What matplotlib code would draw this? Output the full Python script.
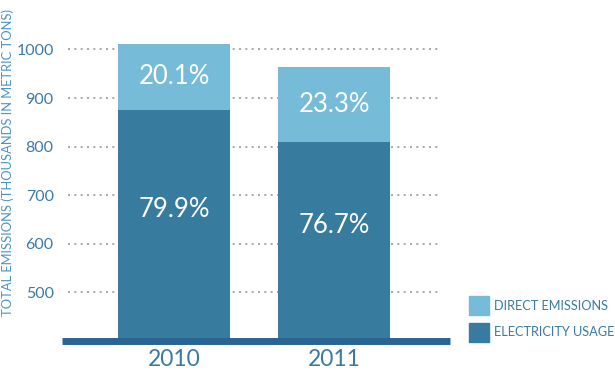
import matplotlib.pyplot as plt

years = ['2010', '2011']
electricity = [875, 810]
total = [1012, 963]
direct_pct = ['20.1%', '23.3%']
elec_pct = ['79.9%', '76.7%']
yticks = [500, 600, 700, 800, 900, 1000]

light = '#76bcd8'
dark = '#377c9f'
text_col = '#3a7aa3'

plt.rcParams['font.family'] = ['Lato', 'DejaVu Sans']

fig = plt.figure(figsize=(6.15, 3.8), dpi=100)
ax = fig.add_axes([62 / 615, 39 / 380, 388 / 615, 311 / 380])

x = [0, 1]
direct = [t - e for t, e in zip(total, electricity)]
elec_heights = [e - 400 for e in electricity]

for v in yticks:
    ax.axhline(v, xmin=0.016, xmax=0.974, color='#999999', lw=1.2,
               linestyle=(0, (1.2, 2.6)), zorder=1)

ax.bar(x, elec_heights, bottom=400, width=0.7, color=dark, zorder=2)
ax.bar(x, direct, bottom=electricity, width=0.7, color=light, zorder=2)

for i in range(2):
    ax.text(x[i], (electricity[i] + total[i]) / 2, direct_pct[i], color='white',
            fontsize=18.5, ha='center', va='center', zorder=3)
    ax.text(x[i], (electricity[i] + 465) / 2, elec_pct[i], color='white',
            fontsize=18.5, ha='center', va='center', zorder=3)

ax.set_xlim(-0.7, 1.725)
ax.set_ylim(400, 1040)
ax.axhline(400, color='#2a6592', lw=5, zorder=4, clip_on=False,
           solid_capstyle='butt')

ax.set_yticks(yticks)
ax.set_yticklabels([str(v) for v in yticks], color=text_col, fontsize=11.5)
ax.set_xticks(x)
ax.set_xticklabels(years, color=text_col, fontsize=16.5)
ax.tick_params(axis='both', length=0)
ax.tick_params(axis='y', pad=6)
ax.tick_params(axis='x', pad=6)
for s in ax.spines.values():
    s.set_visible(False)

fig.text(8 / 615, 218 / 380, 'TOTAL EMISSIONS (THOUSANDS IN METRIC TONS)',
         rotation=90, color='#4a95c0', fontsize=9.3, ha='center', va='center')

# legend
fig.patches.append(plt.Rectangle((469 / 615, 65 / 380), 20 / 615, 19 / 380,
                                 color=light, transform=fig.transFigure))
fig.patches.append(plt.Rectangle((469 / 615, 38 / 380), 20 / 615, 19 / 380,
                                 color=dark, transform=fig.transFigure))
fig.text(494 / 615, 74.5 / 380, 'DIRECT EMISSIONS', color=text_col,
         fontsize=9.2, va='center')
fig.text(494 / 615, 47.5 / 380, 'ELECTRICITY USAGE', color=text_col,
         fontsize=9.2, va='center')

fig.savefig('out.png', dpi=100)
